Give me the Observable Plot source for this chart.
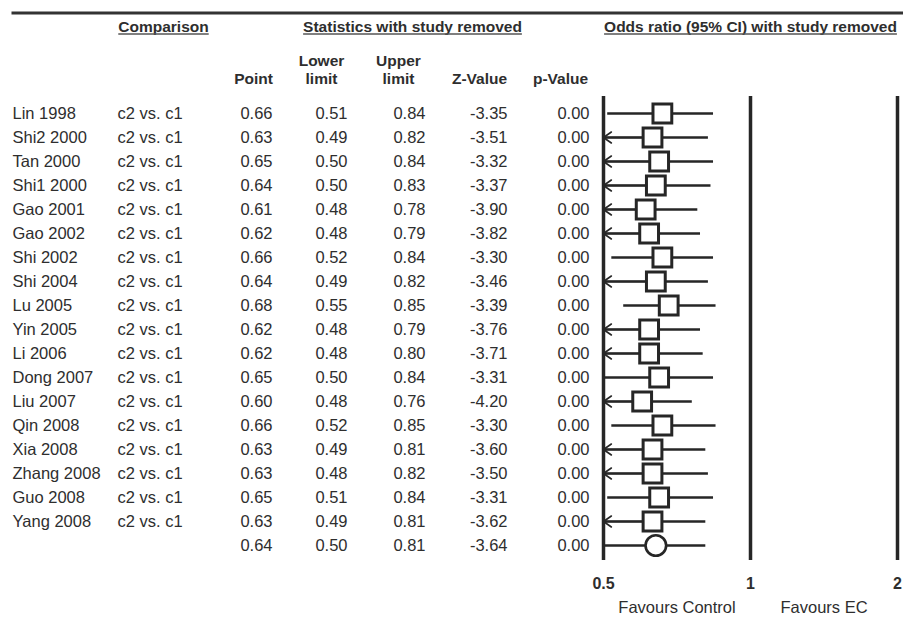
<!DOCTYPE html>
<html>
<head>
<meta charset="utf-8">
<script src="https://cdn.jsdelivr.net/npm/d3@7"></script>
<script src="https://cdn.jsdelivr.net/npm/@observablehq/plot@0.6"></script>
<style>
  body { margin: 0; background: #fff; }
</style>
</head>
<body>
<div id="chart"></div>
<script>
const studies = ["Lin 1998","Shi2 2000","Tan 2000","Shi1 2000","Gao 2001","Gao 2002","Shi 2002","Shi 2004","Lu 2005","Yin 2005","Li 2006","Dong 2007","Liu 2007","Qin 2008","Xia 2008","Zhang 2008","Guo 2008","Yang 2008",""];
const comparisons = ["c2 vs. c1","c2 vs. c1","c2 vs. c1","c2 vs. c1","c2 vs. c1","c2 vs. c1","c2 vs. c1","c2 vs. c1","c2 vs. c1","c2 vs. c1","c2 vs. c1","c2 vs. c1","c2 vs. c1","c2 vs. c1","c2 vs. c1","c2 vs. c1","c2 vs. c1","c2 vs. c1",""];
const pointEst = [0.66,0.63,0.65,0.64,0.61,0.62,0.66,0.64,0.68,0.62,0.62,0.65,0.60,0.66,0.63,0.63,0.65,0.63,0.64];
const lowerLim = [0.51,0.49,0.50,0.50,0.48,0.48,0.52,0.49,0.55,0.48,0.48,0.50,0.48,0.52,0.49,0.48,0.51,0.49,0.50];
const upperLim = [0.84,0.82,0.84,0.83,0.78,0.79,0.84,0.82,0.85,0.79,0.80,0.84,0.76,0.85,0.81,0.82,0.84,0.81,0.81];
const zValues = [-3.35,-3.51,-3.32,-3.37,-3.90,-3.82,-3.30,-3.46,-3.39,-3.76,-3.71,-3.31,-4.20,-3.30,-3.60,-3.50,-3.31,-3.62,-3.64];
const pValues = [0,0,0,0,0,0,0,0,0,0,0,0,0,0,0,0,0,0,0];
// CI extends beyond the 0.5 axis limit (arrow drawn)
const truncated = [false,true,true,true,true,true,false,true,false,true,true,false,true,false,true,true,false,true,false];
const isSummary = [false,false,false,false,false,false,false,false,false,false,false,false,false,false,false,false,false,false,true];
const axisTicks = [0.5, 1, 2];
const tickLabels = ["0.5", "1", "2"];
const favourLabels = ["Favours Control", "Favours EC"];
const topHeaders = ["Comparison", "Statistics with study removed", "Odds ratio (95% CI) with study removed"];
const colHeaders = ["Point", "Lower\nlimit", "Upper\nlimit", "Z-Value", "p-Value"];

const rows = studies.map((s, i) => ({
  i, name: s, comp: comparisons[i], point: pointEst[i], lower: lowerLim[i], upper: upperLim[i],
  z: zValues[i], p: pValues[i], trunc: truncated[i], summary: isSummary[i],
  x1: Math.max(lowerLim[i], axisTicks[0])
}));
const f2 = d => d.toFixed(2);

const ink = "#262626";
const txt = "#2e2e2e";
const font = "Liberation Sans, Arial, sans-serif";

const numCols = [
  {key: "point", right: 272},
  {key: "lower", right: 347},
  {key: "upper", right: 425},
  {key: "z", right: 507},
  {key: "p", right: 589}
];
const colHeaderX = [253, 321, 398, 479, 560];
const colHeaderY = [78, 69, 69, 78, 78];
const topHeaderX = [163, 412, 750];

const marks = [
  Plot.frame({insetLeft: 11, insetRight: 0, insetTop: 11, insetBottom: 604, fill: "#333", stroke: null}),
  ...topHeaders.map((h, k) => Plot.text([h], {frameAnchor: "top-left", dx: topHeaderX[k], dy: 27, text: d => d, textAnchor: "middle", lineAnchor: "middle", fontWeight: "bold", fontSize: 15.5, fill: txt})),
  ...colHeaders.map((h, k) => Plot.text([h], {frameAnchor: "top-left", dx: colHeaderX[k], dy: colHeaderY[k], text: d => d, textAnchor: "middle", lineAnchor: "middle", lineHeight: 1.15, fontWeight: "bold", fontSize: 15.5, fill: txt})),
  Plot.text(rows, {y: "i", text: "name", frameAnchor: "left", dx: 12, textAnchor: "start", lineAnchor: "middle", fontSize: 16.5, fill: txt}),
  Plot.text(rows, {y: "i", text: "comp", frameAnchor: "left", dx: 117, textAnchor: "start", lineAnchor: "middle", fontSize: 16.5, fill: txt}),
  ...numCols.map(c => Plot.text(rows, {y: "i", text: d => f2(d[c.key]), frameAnchor: "left", dx: c.right, textAnchor: "end", lineAnchor: "middle", fontSize: 16.5, fill: txt})),
  Plot.ruleX(axisTicks, {insetTop: 96, insetBottom: 58, stroke: ink, strokeWidth: 3.5}),
  Plot.ruleY(rows, {y: "i", x1: "x1", x2: "upper", stroke: ink, strokeWidth: 2.5}),
  Plot.arrow(rows.filter(d => d.trunc), {x1: "point", x2: () => axisTicks[0], y1: "i", y2: "i", stroke: ink, strokeWidth: 1.6, headLength: 9, headAngle: 70}),
  Plot.dot(rows.filter(d => !d.summary), {x: "point", y: "i", symbol: "square", r: 10.6, fill: "white", stroke: ink, strokeWidth: 3}),
  Plot.dot(rows.filter(d => d.summary), {x: "point", y: "i", symbol: "circle", r: 10.3, fill: "white", stroke: ink, strokeWidth: 2.6}),
  Plot.text(axisTicks, {x: d => d, text: (d, i) => tickLabels[i], frameAnchor: "top", dy: 583, lineAnchor: "middle", fontWeight: "bold", fontSize: 16, fill: txt}),
  Plot.text(favourLabels, {x: (d, i) => Math.sqrt(axisTicks[i] * axisTicks[i + 1]), text: d => d, frameAnchor: "top", dy: 607, lineAnchor: "middle", fontSize: 16.5, fill: txt})
];

const chart = Plot.plot({
  width: 903,
  height: 618,
  margin: 0,
  style: {fontFamily: font, background: "white", color: txt},
  x: {type: "log", domain: [0.5, 2], range: [603, 897], axis: null},
  y: {type: "point", domain: d3.range(studies.length), range: [109, 548], padding: 0, axis: null},
  marks
});
document.getElementById("chart").appendChild(chart);

// underline the top headers (measured from the rendered text)
const svg = d3.select(chart);
svg.selectAll("text").filter(function () { return topHeaders.includes(this.textContent); }).each(function () {
  const b = this.getBBox();
  const m = this.getCTM();
  const x0 = m.a * b.x + m.e, x1 = m.a * (b.x + b.width) + m.e;
  const yb = m.d * (b.y + b.height) + m.f;
  svg.append("line")
    .attr("x1", x0).attr("x2", x1)
    .attr("y1", yb - 1.5).attr("y2", yb - 1.5)
    .attr("stroke", "#555").attr("stroke-width", 1.6);
});
</script>
</body>
</html>
